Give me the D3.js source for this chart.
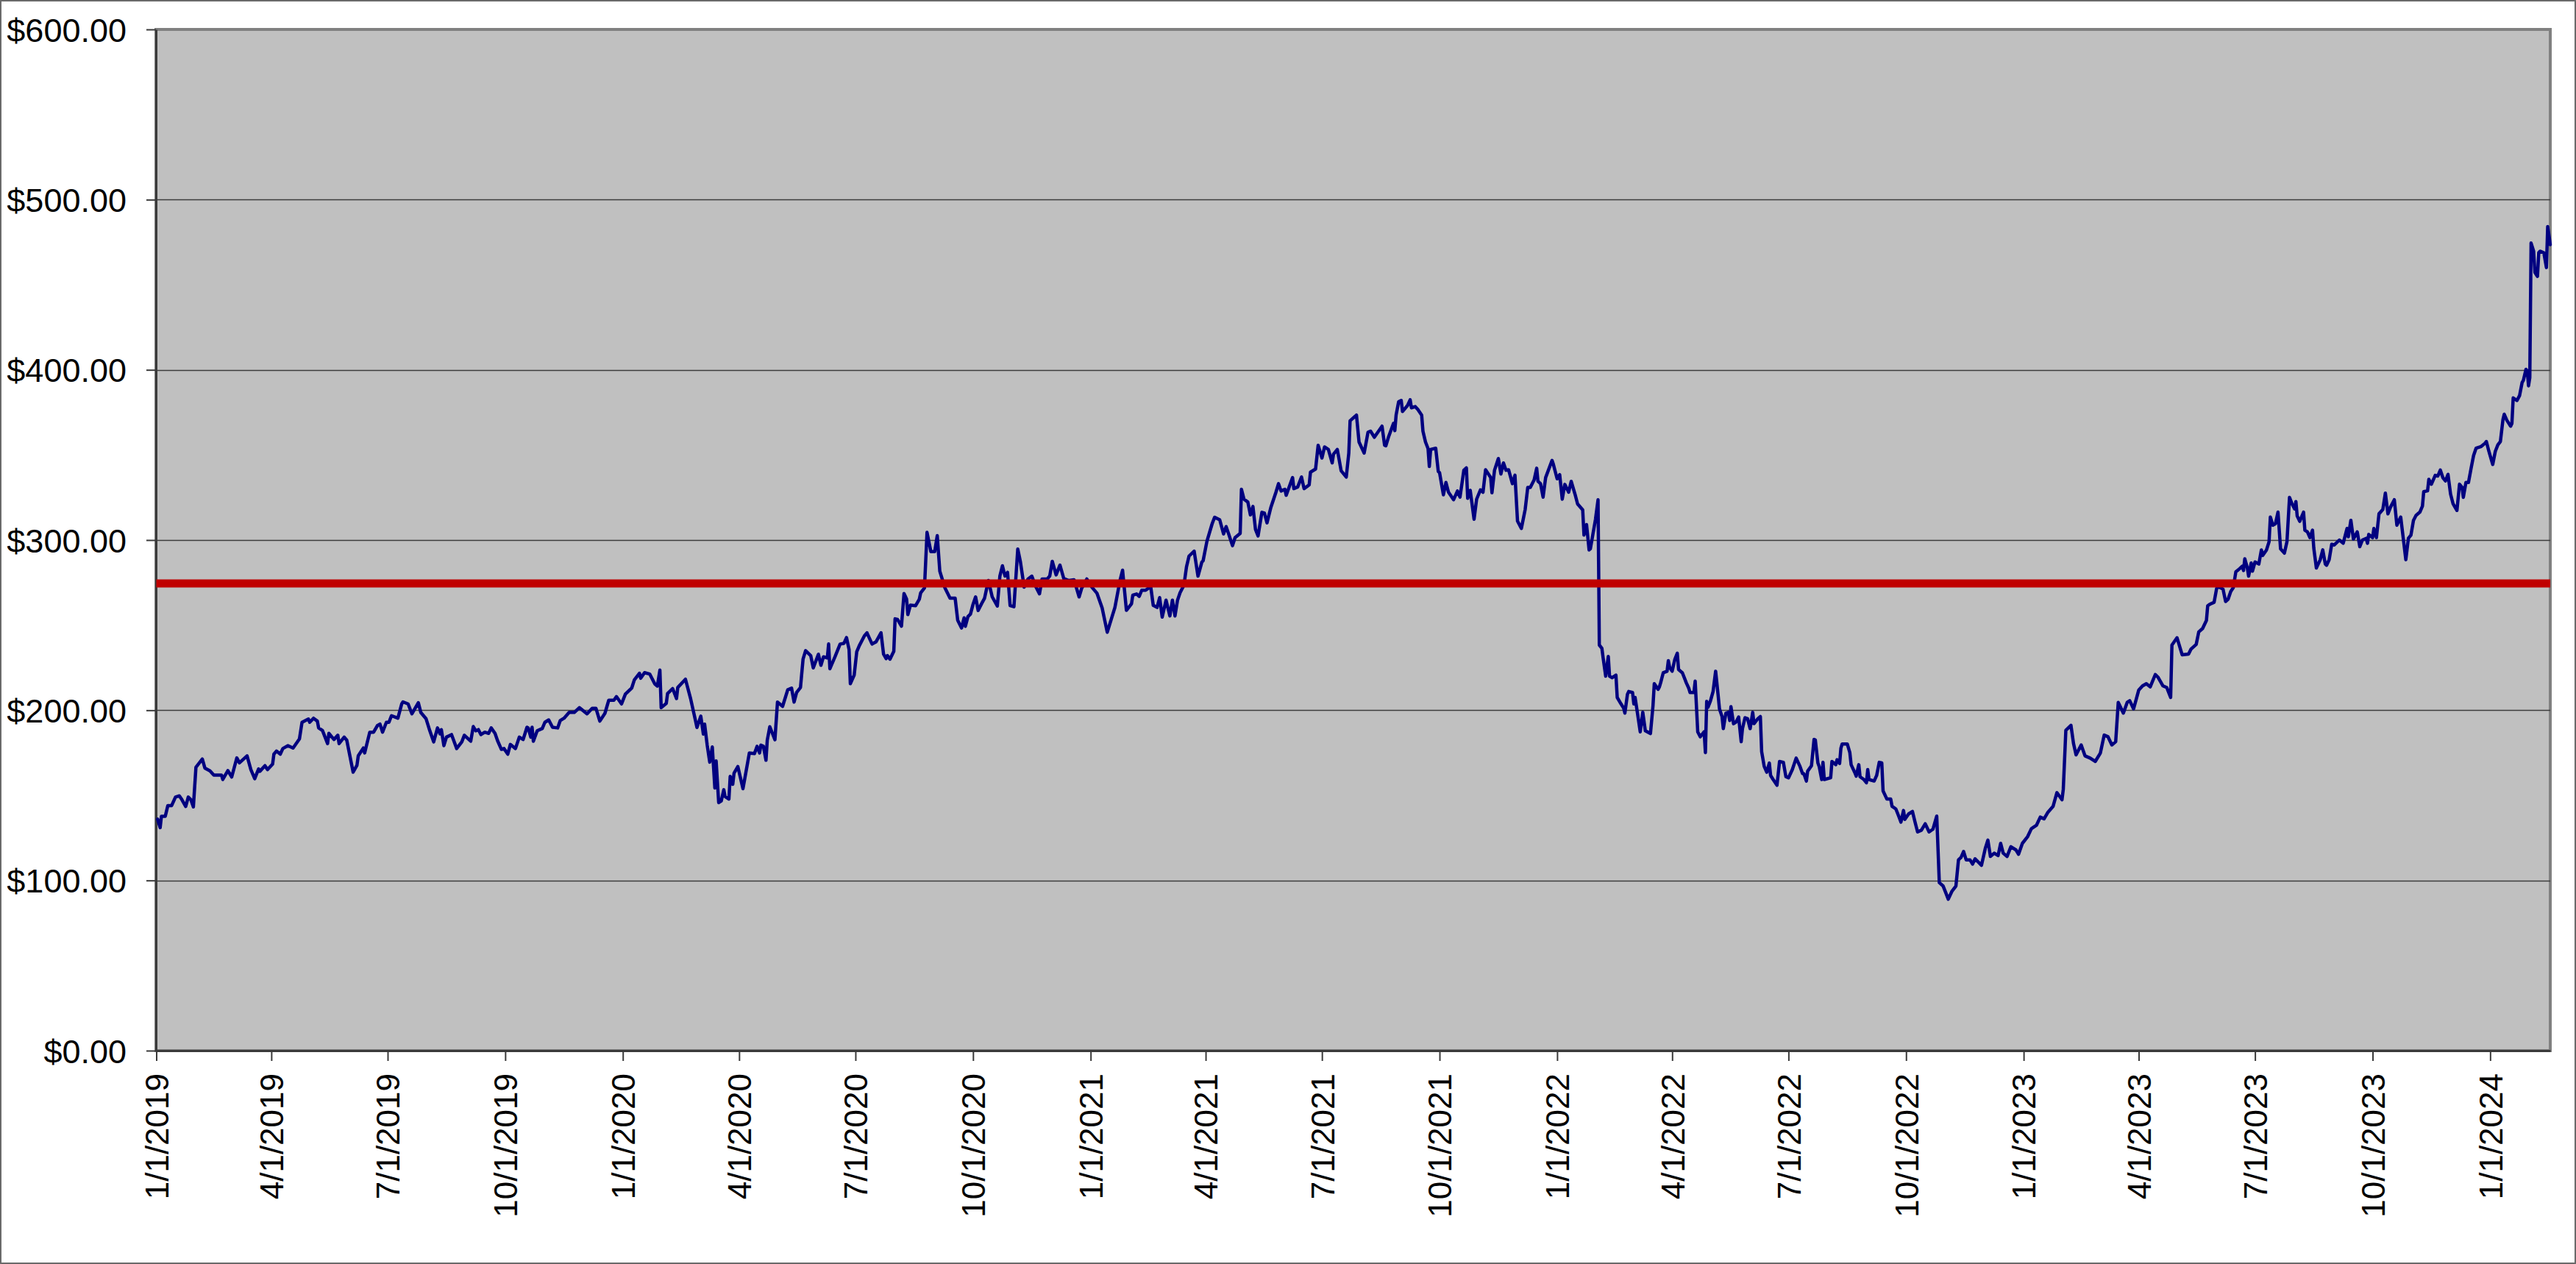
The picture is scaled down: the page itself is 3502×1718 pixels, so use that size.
<!DOCTYPE html>
<html>
<head>
<meta charset="utf-8">
<script src="https://cdn.jsdelivr.net/npm/d3@7"></script>
<style>
html,body{margin:0;padding:0;background:#ffffff;}
svg{display:block;}
</style>
</head>
<body>
<script>
// ---------------- DATA ----------------
const startDate = "2019-01-01";

// trading-day offsets (days after startDate)
const dayOffsets = [
  1,3,4,7,9,12,15,18,20,23,25,27,29,31,33,36,38,42,45,51,52,56,59,63,65,71,74,77,80,81,85,87,91,92,94,97,99,103,107,112,
  114,119,120,123,126,127,130,134,135,139,142,143,147,149,154,157,158,162,163,167,170,173,175,177,180,182,184,189,192,193,
  197,200,205,207,211,214,217,220,222,223,225,227,231,235,239,241,246,248,250,252,254,257,260,262,265,267,270,272,275,277,
  281,284,287,290,291,293,294,295,298,302,304,307,310,314,316,319,323,327,331,337,341,344,347,351,354,358,360,364,367,372,
  374,378,379,382,386,390,392,394,395,
  399,400,404,407,408,414,418,421,423,426,428,429,431,433,435,437,438,440,442,444,445,448,449,451,452,455,459,464,468,470,
  472,473,475,477,478,480,484,486,490,494,497,499,501,504,506,508,512,514,518,520,522,525,526,527,531,535,538,540,542,543,
  546,548,550,554,556,560,563,567,569,571,572,574,577,578,580,583,585,587,588,590,594,597,598,601,
  603,606,609,611,613,617,621,625,627,630,632,633,635,637,639,641,643,646,648,651,654,658,660,662,664,666,668,671,674,676,
  679,682,685,688,691,693,697,699,701,704,707,710,714,718,722,724,728,732,736,740,
  744,750,754,756,759,763,764,767,769,771,774,778,780,783,785,787,790,793,795,797,799,801,804,806,808,812,815,818,819,822,
  826,828,832,835,837,839,842,844,848,849,851,854,856,858,860,862,865,867,869,872,876,878,880,883,884,889,890,893,896,898,
  902,903,907,909,912,914,917,920,921,924,927,931,933,934,938,939,941,945,948,950,953,959,961,962,964,968,969,970,972,974,
  975,979,981,982,985,987,990,991,993,995,996,997,1001,1003,1004,1007,1009,1011,1015,1018,1020,1023,1025,1026,1028,1031,1033,1036,1038,1040,
  1044,1045,1047,1050,1052,1054,1056,1058,1061,1063,1065,1068,1071,1073,1075,1078,1080,1081,1083,1085,1087,1092,1093,1096,1098,1100,1102,1105,1107,1110,
  1112,1116,1117,1119,1121,1122,1126,1128,
  1129,1131,1132,1134,1136,1137,1139,1142,1143,1146,1148,1149,1151,1152,1155,1156,1157,1159,1161,1163,1165,1169,1171,1172,1175,1176,1177,1179,1182,1183,
  1184,1186,1188,1190,1191,1194,1197,1199,1200,1203,1204,1206,1208,1211,1212,1213,1214,1216,1218,1220,1222,1223,1225,1226,1228,1230,1231,1232,1234,1236,
  1238,1240,1241,1243,1245,1247,1249,1250,1253,1255,1256,1258,1260,1262,1263,1265,1268,1270,1273,1275,1277,1280,1283,1286,1288,1289,1291,1292,1295,1297,
  1298,1300,1301,1303,1304,1305,1310,1311,1314,1315,1317,1318,1319,1323,1325,1326,1329,1330,1332,1333,1336,1338,1339,1340,1344,1346,1348,1350,1351,1354,
  1357,1358,1361,1363,1365,1367,1368,1371,
  1374,1376,1378,1381,1384,1387,1390,1393,1395,1398,1400,1402,1405,1408,1410,1412,1414,1416,1419,1421,1423,1428,1431,1433,1435,1438,1441,1443,1445,1448,
  1451,1455,1457,1460,1464,1467,1471,1474,1477,1480,1484,1487,1491,1492,1494,1498,1500,1502,1506,1509,1513,1517,1521,1524,1527,1530,1533,1535,1539,1542,
  1544,1547,1551,1554,1557,1560,1564,1566,1570,1573,1576,1577,1581,1585,1590,1592,1596,1598,1601,1604,
  1605,1607,1610,1612,1613,1615,1617,1619,1621,1623,1625,1627,1630,1632,1633,1634,1636,1637,1639,1640,1642,1645,1647,1648,1651,1653,1654,1656,1658,1660,
  1662,1665,1667,1669,1671,1673,1674,1675,1677,1680,1681,1683,1685,1687,1688,1690,1693,1695,1697,1698,1700,1702,1704,1708,1711,1714,1715,1717,1719,1722,
  1724,1726,1729,1730,1731,1734,1735,1737,1739,1742,1744,1746,1748,1751,1753,1756,1760,1762,1764,1766,1768,1771,1773,1774,1777,1778,1780,1783,1785,1787,
  1789,1791,1793,1795,1797,1800,1802,1804,1805,1807,1809,1811,1813,1815,1819,1822,1823,1825,1828,1830,1832,1834,1836,1837,1839,1842,1843,1844,1847,1849,
  1851,1852,1854,1855,1856,1857,1858,1860,1861,1863,1864,1865,1868,1870,1871,1873
];

// closing prices ($) matching dayOffsets
const prices = [
  136,131,137.7,137.7,143.9,144,149,149.7,147.5,143.5,149,147.5,143.2,166.5,168.4,171.3,166,164.4,161.9,161.9,
  159.3,164.5,160.8,172,169.1,173.2,165.1,159.8,165.5,164.1,167.4,165.1,168.4,174.2,176,174.2,177.5,179.2,177.8,183.2,
  192.9,194.8,192.9,195.3,193.6,189.6,188.1,180.4,186.4,182.8,185.3,180.4,184.2,182.4,163.6,167.7,173.2,177.8,174.9,187.1,
  187.1,191,191.9,187.1,192.9,192.9,196.8,195.3,203.7,204.9,203.7,197.9,204.4,198.6,195.1,187.9,181.4,189.6,186.1,188.6,
  179.2,184.2,185.7,177.5,181.4,185.3,181.8,190.4,187.9,188.6,185.7,187.1,186.4,189.6,186.4,182.1,177,177.5,174.2,179.9,
  177.5,184.2,182.8,190,189.6,184.2,190,181.8,187.9,189.3,192.9,194.3,190,189.6,193.9,195.3,198.7,198.7,201.5,197.9,
  201.1,201.1,193.6,198.2,205.9,205.9,208,203.7,209.5,213.1,217.8,221.7,218.8,222.1,221.3,215.5,214.2,223.6,201.5,
  204,209.8,212.7,206.9,213.4,218.2,206.9,196.8,189.9,196.5,186,191.8,179.5,169.5,178.4,154.3,170.2,145.7,146.7,153.3,
  149.3,147.8,161.1,156.5,163,166.9,153.9,174.9,174.5,178.8,174.9,179.5,178.8,170.6,182.4,190.3,182.7,204.8,202.3,212,
  213,204.8,210.5,213.4,230,235,232.1,224.9,232.9,226.4,231.4,230.7,238.9,224.4,231.4,238.9,239.3,242.7,235.7,215.6,
  220.6,234.3,237.9,243.7,245.5,238.9,240.1,245.5,232.9,230.3,232.1,230,234.6,253.7,253.3,249.4,268.6,265.3,256.2,261.7,
  261.4,265.3,268.9,271.8,
  304.5,293.2,293.2,302.6,281.7,271.9,265.8,265.8,252.9,248.3,254.3,249.3,255,256.5,262.2,266.6,258.6,263,265.8,276.2,
  266.6,261.2,278.8,284.9,278.8,281,261.5,260.8,294.7,287.5,272.3,277.1,278.8,272.8,268.4,277.1,277.1,278.8,287.5,279.5,
  285.3,277.4,276.2,276.7,266.6,271.6,277.1,272.3,268.7,260.1,
  245.8,260.4,276.3,282.3,258.7,262.6,267.6,268.3,266.9,270.5,270.5,272.7,261.6,260.4,266.2,254.7,264.7,255.4,264.7,255.4,
  264.7,269.1,273.4,284.2,290.6,293.5,278.8,287,287.8,299.3,309.4,313.4,311.9,303.6,307.9,303.6,296.7,301.4,303.9,329.8,
  324,322.3,314.8,319.7,306.2,302.4,316.3,315.8,310.1,319.1,328.1,333.1,328.8,329.8,326.3,336.7,330.2,331.2,337,330.2,
  332.4,339.9,341.7,355.7,348.2,354.7,353.2,345.3,350.4,353.2,340.7,337,351.1,370.1,372.7,373.4,357.6,351.1,363.3,364,
  360.4,366.9,355.7,355.4,360.4,368.6,364.3,373.4,381.3,382,375.5,379.1,382.4,377.7,378.4,376.7,373.4,364,357.6,353.7,
  343.2,353.2,353.9,340.3,339.6,326.6,333.8,328.1,323.7,328.8,325.2,341,342.4,324.5,329.2,312.2,324,329.5,328.1,341.3,
  336.7,327.8,341,347.9,338.8,345.3,341,341.3,333.1,338.1,311.1,306.8,318,330.9,330.9,335.3,342.2,334.5,333.1,325.2,
  336.7,346.8,344.6,336,338.4,324,332.7,328.1,334.5,326.9,321.2,317.7,302.9,309.1,294.2,294.9,312.2,323.7,
  238.3,236.4,230.6,220,231.6,220,219.1,220.6,207.5,203.7,201.3,198.3,209.4,211,210.4,203.7,207.5,197.5,187.3,198.8,
  187.9,186.3,202.7,215.6,212.3,213.7,216.2,222,222.9,229.1,225.2,222.9,229.7,233.5,223.9,222,216.2,212.9,210.4,210.4,
  217.1,187.3,184.4,187.3,175.1,205.2,201.7,205.6,211,222.9,208.5,200.8,196.3,189.2,198.3,198.8,194,202.1,192.1,193.1,
  196,181.5,189.2,195.6,195,189.2,198.8,192.1,195,196.3,175.7,167,163.6,169,161.7,159.3,155.9,169.9,169.4,160.9,
  160.3,165.1,171.9,167,162.8,162.8,158.4,164.2,167.4,182.9,182.5,169,167,159.3,169.4,159.3,160.3,169.9,168,170.9,
  168.7,177.6,180.2,180.2,175.1,168,163.2,161.3,168,160.9,159.3,157.4,165.1,159.3,158.4,161.7,169.4,169,152.6,147.8,
  147.8,143.6,142,138.2,134.3,141.1,135.9,139.1,
  140.5,134.3,128.5,129.5,133.3,128.5,130.1,137.8,98.7,96.7,92.9,89,93.8,96.7,112.1,113.5,117,112.1,112.1,109.6,
  112.7,108.9,118.9,123.7,114.1,116,114.6,121.8,116,114.1,119.8,117.9,115.4,121.8,125.6,130.4,132.4,137.2,136.2,140.1,
  143.5,151.6,147.4,153.6,188.2,191.1,180.5,173.8,179.6,173.2,171.9,169.9,174.8,185.4,184.4,179.6,181.5,204.6,198.3,204.6,
  205.6,200.8,211.8,214.3,215.6,213.7,221,219.5,214.3,213.3,207.5,238.3,242.6,232.6,233,236,238.7,246,248,252.8,
  261.4,262.4,263.4,271.6,272.4,272,271.1,263.9,265.3,269.7,272,281.3,283.2,284.6,282.1,289,283.6,278.8,286.5,281.7,
  287.1,285.9,294.2,290.9,294.2,299,313.5,308.7,309.6,316.4,294.8,292.3,299,325.1,321.2,318.3,322.6,314.1,311,316.4,
  305.8,304.8,301.4,305.8,295.2,283.6,288.4,294.2,285.9,285.2,288.4,297.5,297.1,300,298.1,306.8,301.9,311.6,300.6,304.8,
  296.1,300,301,298.1,303.3,301.4,306.8,301.4,315.4,317.9,327.6,315.4,319.3,323.7,308.7,313.5,288.4,301,302.9,311.6,
  314.5,316.4,319.9,328.4,328.9,335.7,332.8,338,337.6,341.1,336.6,334.7,338.6,327,321.2,317.4,332.8,330.9,325.1,333.8,
  333.8,341.9,349.6,354,355,356.9,357.9,352.1,344.4,352.1,355.9,357.9,370.8,373.9,370.4,366.9,368.5,383.5,382,384.9,
  392.6,393.9,400.3,399.3,390.6,395.5,474.5,469.7,457.2,454.9,468.8,469.7,468.8,460.1,484.2,473.6
];

// horizontal reference line value ($)
const referenceValue = [274.5];

// axis ticks
const yTickValues = [0, 100, 200, 300, 400, 500, 600];
const xTickDates = [
  "2019-01-01","2019-04-01","2019-07-01","2019-10-01",
  "2020-01-01","2020-04-01","2020-07-01","2020-10-01",
  "2021-01-01","2021-04-01","2021-07-01","2021-10-01",
  "2022-01-01","2022-04-01","2022-07-01","2022-10-01",
  "2023-01-01","2023-04-01","2023-07-01","2023-10-01",
  "2024-01-01"
];

// ---------------- CHART ----------------
const W = 3502, H = 1718;
const plot = { left: 212, right: 3467, top: 40, bottom: 1428 };

const parse = d3.utcParse("%Y-%m-%d");
const t0 = parse(startDate);
const n = Math.min(dayOffsets.length, prices.length);
if (dayOffsets.length !== prices.length) console.warn("length mismatch", dayOffsets.length, prices.length);
const series = d3.range(n).map(i => ({ date: d3.utcDay.offset(t0, dayOffsets[i]), value: prices[i] }));
const tEnd = series[series.length - 1].date;

const x = d3.scaleUtc().domain([t0, tEnd]).range([plot.left + 0.5, plot.right]);
const y = d3.scaleLinear().domain([0, 600]).range([plot.bottom, plot.top]);

const svg = d3.select("body").append("svg")
  .attr("width", W).attr("height", H)
  .attr("viewBox", `0 0 ${W} ${H}`);

// chart area background + border
svg.append("rect")
  .attr("x", 1).attr("y", 1).attr("width", W - 2).attr("height", H - 2)
  .attr("fill", "#ffffff").attr("stroke", "#6a6a6a").attr("stroke-width", 2);

// plot area
svg.append("rect")
  .attr("x", plot.left).attr("y", plot.top)
  .attr("width", plot.right - plot.left).attr("height", plot.bottom - plot.top)
  .attr("fill", "#c0c0c0").attr("stroke", "#808080").attr("stroke-width", 4);

// gridlines
svg.append("g").selectAll("line")
  .data(yTickValues.filter(v => v > 0 && v < 600))
  .join("line")
  .attr("x1", plot.left).attr("x2", plot.right)
  .attr("y1", d => Math.round(y(d)) + 0.5).attr("y2", d => Math.round(y(d)) + 0.5)
  .attr("stroke", "#3c3c3c").attr("stroke-width", 1.6);

const fontFamily = "'Liberation Sans', Arial, Helvetica, sans-serif";

// y axis
const yAxis = svg.append("g")
  .attr("transform", `translate(${plot.left},0)`)
  .call(d3.axisLeft(y).tickValues(yTickValues).tickSize(13).tickSizeOuter(0).tickPadding(27)
    .tickFormat(d3.format("$.2f")));
yAxis.select(".domain").attr("stroke", "#3a3a3a").attr("stroke-width", 3);
yAxis.selectAll(".tick line").attr("stroke", "#3a3a3a").attr("stroke-width", 2);
yAxis.selectAll(".tick text")
  .attr("font-family", fontFamily).attr("font-size", 45).attr("fill", "#000")
  .attr("dy", "0.36em");

// x axis
const fmt = d3.utcFormat("%-m/%-d/%Y");
const xAxis = svg.append("g")
  .attr("transform", `translate(0,${plot.bottom})`)
  .call(d3.axisBottom(x).tickValues(xTickDates.map(parse)).tickSize(14).tickSizeOuter(0).tickFormat(fmt));
xAxis.select(".domain").attr("stroke", "#3a3a3a").attr("stroke-width", 3);
xAxis.selectAll(".tick line").attr("stroke", "#3a3a3a").attr("stroke-width", 2);
xAxis.selectAll(".tick text")
  .attr("font-family", fontFamily).attr("font-size", 44).attr("fill", "#000")
  .attr("transform", "rotate(-90)")
  .attr("text-anchor", "end")
  .attr("x", -31).attr("y", 0).attr("dy", "0.36em");

// price line
const line = d3.line().x(d => x(d.date)).y(d => y(d.value));
svg.append("path")
  .datum(series)
  .attr("d", line)
  .attr("fill", "none")
  .attr("stroke", "#000080")
  .attr("stroke-width", 4.5)
  .attr("stroke-linejoin", "round")
  .attr("stroke-linecap", "round");

// reference line
const refData = [{ date: t0, value: referenceValue[0] }, { date: tEnd, value: referenceValue[0] }];
svg.append("path")
  .datum(refData)
  .attr("d", d3.line().x(d => x(d.date)).y(d => y(d.value)))
  .attr("fill", "none")
  .attr("stroke", "#c00000")
  .attr("stroke-width", 11);
</script>
</body>
</html>
